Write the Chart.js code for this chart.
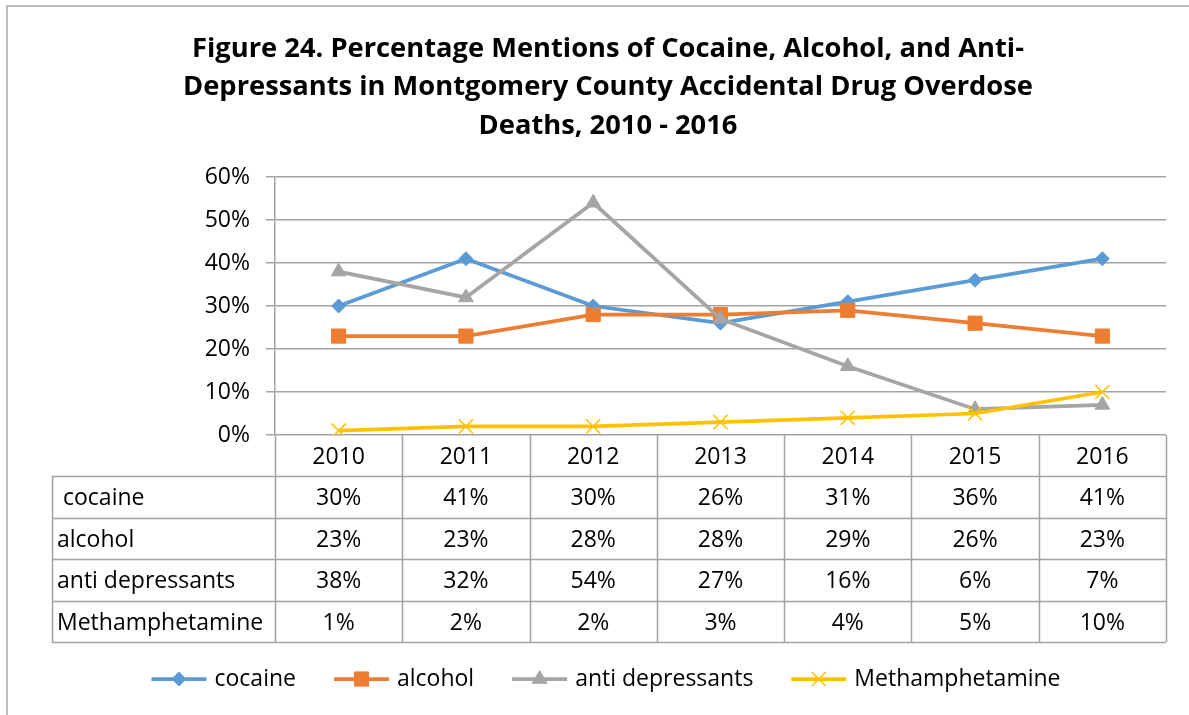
<!DOCTYPE html>
<html>
<head>
<meta charset="utf-8">
<script src="https://cdn.jsdelivr.net/npm/chart.js@4.4.1/dist/chart.umd.min.js"></script>
<style>
  html, body { margin: 0; padding: 0; background: #fff; overflow: hidden; }
  #wrap { position: relative; width: 1189px; height: 715px; }
</style>
</head>
<body>
<div id="wrap"><canvas id="chart" width="1189" height="715"></canvas></div>
<script>
// Series values (percent of accidental overdose deaths)
const years = ['2010', '2011', '2012', '2013', '2014', '2015', '2016'];
const cocaine = [30, 41, 30, 26, 31, 36, 41];
const alcohol = [23, 23, 28, 28, 29, 26, 23];
const antiDepressants = [38, 32, 54, 27, 16, 6, 7];
const methamphetamine = [1, 2, 2, 3, 4, 5, 10];

const seriesNames = ['cocaine', 'alcohol', 'anti depressants', 'Methamphetamine'];
const tableRowLabels = [' cocaine', 'alcohol', 'anti depressants', 'Methamphetamine'];
const yTicks = [0, 10, 20, 30, 40, 50, 60];
const titleLines = [
  'Figure 24. Percentage Mentions of Cocaine, Alcohol, and Anti-',
  'Depressants in Montgomery County Accidental Drug Overdose',
  'Deaths, 2010 - 2016'
];

const FONT = '"Open Sans", Lato, sans-serif';
const TEXT_SIZE = 23;
const GRID = '#a3a3a3';
const colors = ['#5b9bd5', '#ed7d31', '#a5a5a5', '#ffc000'];
const styles = ['rectRot', 'rect', 'triangle', 'crossRot'];
const radii = [7, 10, 8.5, 10];

const seriesData = [cocaine, alcohol, antiDepressants, methamphetamine];

const datasets = seriesData.map((vals, i) => ({
  label: seriesNames[i],
  data: vals,
  borderColor: colors[i],
  backgroundColor: colors[i],
  borderWidth: 3.75,
  pointStyle: styles[i],
  pointRadius: radii[i],
  pointBorderWidth: styles[i] === 'crossRot' ? 1.5 : 1,
  pointBackgroundColor: colors[i],
  pointBorderColor: colors[i],
  tension: 0,
  order: 4 - i
}));

function pct(v) { return v + '%'; }

// Title, outer frame, data table and legend drawn on the chart canvas
const extras = {
  id: 'extras',
  afterDraw(chart) {
    const ctx = chart.ctx;
    const area = chart.chartArea;
    const xs = chart.scales.x;
    ctx.save();

    // outer frame (continues past the canvas edges)
    ctx.strokeStyle = '#a6a6a6';
    ctx.lineWidth = 1.5;
    ctx.beginPath();
    ctx.moveTo(7, 720);
    ctx.lineTo(7, 6);
    ctx.lineTo(1200, 6);
    ctx.stroke();

    // title
    ctx.fillStyle = '#000';
    ctx.font = 'bold 27.3px ' + FONT;
    ctx.textAlign = 'center';
    ctx.textBaseline = 'middle';
    titleLines.forEach((t, i) => ctx.fillText(t, 608, 49 + i * 38.5));

    // data table
    const colW = xs.getPixelForValue(1) - xs.getPixelForValue(0);
    const left0 = xs.getPixelForValue(0) - colW / 2;
    const right = left0 + colW * years.length;
    const headTop = area.bottom;
    const rowTop = headTop + 41;
    const rowH = 41.5;
    const tableLeft = 52;
    const bottom = rowTop + rowH * seriesData.length;

    ctx.strokeStyle = GRID;
    ctx.lineWidth = 1.5;
    ctx.beginPath();
    for (let c = 0; c <= years.length; c++) {
      const x = Math.round(left0 + c * colW) + 0.5;
      ctx.moveTo(x, headTop);
      ctx.lineTo(x, bottom);
    }
    for (let r = 0; r <= seriesData.length; r++) {
      const y = Math.round(rowTop + r * rowH) + 0.5;
      ctx.moveTo(tableLeft, y);
      ctx.lineTo(right, y);
    }
    ctx.moveTo(tableLeft + 0.5, rowTop);
    ctx.lineTo(tableLeft + 0.5, bottom);
    ctx.stroke();

    ctx.font = TEXT_SIZE + 'px ' + FONT;
    ctx.fillStyle = '#000';
    ctx.textBaseline = 'middle';
    seriesData.forEach((vals, r) => {
      const cy = rowTop + r * rowH + rowH / 2 + 2;
      ctx.textAlign = 'left';
      ctx.fillText(tableRowLabels[r], 57, cy);
      ctx.textAlign = 'center';
      vals.forEach((v, c) => ctx.fillText(pct(v), xs.getPixelForValue(c), cy));
    });

    // legend: line sample with marker, then the series name
    const lineLen = 55, gapText = 8, gapItem = 38;
    const widths = seriesNames.map(n => lineLen + gapText + ctx.measureText(n).width);
    const total = widths.reduce((a, b) => a + b, 0) + gapItem * (widths.length - 1);
    let lx = 606 - total / 2;
    const ly = 679;
    seriesNames.forEach((name, i) => {
      ctx.strokeStyle = colors[i];
      ctx.lineWidth = 3.75;
      ctx.beginPath();
      ctx.moveTo(lx, ly);
      ctx.lineTo(lx + lineLen, ly);
      ctx.stroke();
      ctx.fillStyle = colors[i];
      ctx.lineWidth = styles[i] === 'crossRot' ? 1.5 : 1;
      Chart.helpers.drawPoint(ctx, {
        pointStyle: styles[i],
        rotation: 0,
        radius: radii[i],
        borderWidth: ctx.lineWidth
      }, lx + lineLen / 2, ly);
      ctx.fillStyle = '#000';
      ctx.textAlign = 'left';
      ctx.fillText(name, lx + lineLen + gapText, ly);
      lx += widths[i] + gapItem;
    });

    ctx.restore();
  }
};

new Chart(document.getElementById('chart'), {
  type: 'line',
  data: { labels: years, datasets },
  options: {
    responsive: false,
    animation: false,
    devicePixelRatio: 1,
    layout: { padding: { top: 177, right: 23, bottom: 0, left: 0 } },
    plugins: {
      legend: { display: false },
      title: { display: false },
      tooltip: { enabled: false }
    },
    scales: {
      x: {
        type: 'category',
        offset: true,
        grid: { display: false, drawTicks: false },
        border: { display: false },
        ticks: { color: '#000', font: { family: FONT, size: TEXT_SIZE }, padding: 9, maxRotation: 0 },
        afterFit(scale) { scale.height = 280; }
      },
      y: {
        min: 0,
        max: 60,
        afterBuildTicks(scale) { scale.ticks = yTicks.map(v => ({ value: v })); },
        grid: { color: GRID, lineWidth: 1.5, tickLength: 9 },
        border: { display: true, color: GRID, width: 1.5 },
        ticks: { color: '#000', font: { family: FONT, size: TEXT_SIZE }, padding: 16, callback: pct },
        afterFit(scale) { scale.width = 275; }
      }
    }
  },
  plugins: [extras]
});
</script>
</body>
</html>
